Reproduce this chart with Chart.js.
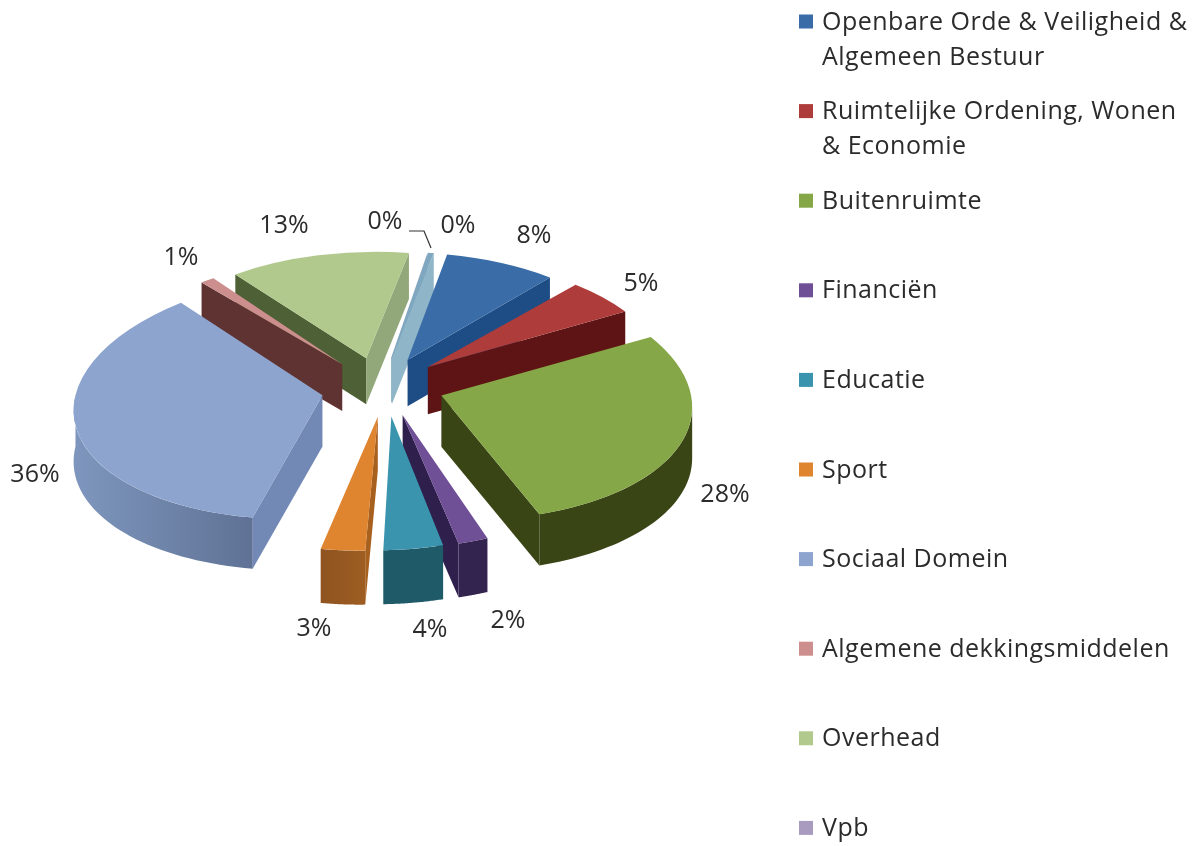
<!DOCTYPE html>
<html><head><meta charset="utf-8">
<style>html,body{margin:0;padding:0;background:#fff}canvas{display:block}</style>
<script src="https://cdn.jsdelivr.net/npm/chart.js@4"></script>
</head><body><canvas id="c" width="1200" height="846"></canvas>
<script>
const categories = ['Openbare Orde & Veiligheid & Algemeen Bestuur','Ruimtelijke Ordening, Wonen & Economie','Buitenruimte','Financiën','Educatie','Sport','Sociaal Domein','Algemene dekkingsmiddelen','Overhead','Vpb',''];
const legendLines = [['Openbare Orde & Veiligheid &','Algemeen Bestuur'],['Ruimtelijke Ordening, Wonen','& Economie'],['Buitenruimte'],['Financiën'],['Educatie'],['Sport'],['Sociaal Domein'],['Algemene dekkingsmiddelen'],['Overhead'],['Vpb']];
const values = [8,5,28,2,4,3,36,1,13,0.01,0.4];
const topColors  = ['#3A6DA8','#AD3C3A','#86A747','#6F4F96','#3A94AE','#DF842F','#8DA4CF','#CC8F8D','#B2C98D','#A99BC0','#7FA7BF'];
const startEdge  = ['#2A5C95','#5E1414','#3A4516','#33234F','#1F5A68','#A8601F','#7288B5','#5E3331','#4E6035','#7FA7BF','#7FA7BF'];
const endEdge    = ['#1E4D85','#5E1414','#3A4516','#2F1F4D','#1F5A68','#A8601F','#7288B5','#5E3331','#92A87A','#7FA7BF','#8FB5C8'];
const wallLeft   = ['#1E4D85','#5E1414','#3A4516','#33234F','#1F5A68','#8E5320','#7E96BD','#5E3331','#4E6035','#5E4F78','#7FA7BF'];
const wallRight  = ['#1E4D85','#5E1414','#3A4516','#33234F','#1F5A68','#9E5E22','#5F7295','#5E3331','#4E6035','#5E4F78','#7FA7BF'];
const labelAnchors = [[534,236],[641,284],[725,495],[508,621],[430,630],[314,629],[35,475],[181,258],[284,226],[385,222],[458,226]];

const EXPLODE = 62, TILT = 0.48, FONT = '"Open Sans", sans-serif', INK = '#2b2b2b';
function geom(arc){
  const a0 = arc.startAngle, a1 = arc.endAngle, mid = (a0+a1)/2, th = mid+Math.PI/2;
  const c = Math.cos(th), s = Math.sin(th);
  const xR = 232+18*s*s-8*c+Math.min(0,4*s), yR = 120-14*c, depth = 50-4*c;
  const shear = Math.min(0,0.06-0.15*(1-s)+0.04*c);
  const lift = 0.05*Math.max(0,s)*Math.max(0,s);
  const tx = arc.x+Math.cos(mid)*EXPLODE, ty = arc.y+Math.sin(mid)*EXPLODE*TILT;
  return {a0,a1,xR,yR,depth,tx,ty,shear,lift};
}
const pie3d = {
  id:'pie3d',
  beforeDatasetDraw(chart,args){
    const ctx = chart.ctx, arcs = args.meta.data;
    const order = arcs.map((a,i)=>i).sort((p,q)=>Math.sin((arcs[p].startAngle+arcs[p].endAngle)/2)-Math.sin((arcs[q].startAngle+arcs[q].endAngle)/2));
    order.forEach(i=>{
      const arc = arcs[i], g = geom(arc), d = g.depth;
      const px = a=>Math.cos(a)*g.xR+g.shear*Math.sin(a)*g.yR, py = a=>Math.sin(a)*g.yR+g.lift*Math.cos(a)*g.xR;
      const quad = (a,col)=>{
        ctx.fillStyle = col; ctx.beginPath();
        ctx.moveTo(0,0); ctx.lineTo(px(a),py(a)); ctx.lineTo(px(a),py(a)+d); ctx.lineTo(0,d);
        ctx.closePath(); ctx.fill();
      };
      ctx.save();
      ctx.translate(g.tx,g.ty);
      if (px(g.a0)<0) quad(g.a0,startEdge[i]);
      if (px(g.a1)>0) quad(g.a1,endEdge[i]);
      const lo = Math.max(g.a0,0), hi = Math.min(g.a1,Math.PI);
      if (hi>lo){
        const gr = ctx.createLinearGradient(Math.min(px(lo),px(hi)),0,Math.max(px(lo),px(hi)),0);
        gr.addColorStop(0,wallLeft[i]); gr.addColorStop(1,wallRight[i]);
        ctx.fillStyle = gr;
        ctx.beginPath();
        for (let t=0;t<=40;t++){const a=lo+(hi-lo)*t/40; ctx.lineTo(px(a),py(a));}
        for (let t=40;t>=0;t--){const a=lo+(hi-lo)*t/40; ctx.lineTo(px(a),py(a)+d);}
        ctx.closePath(); ctx.fill();
      }
      ctx.transform(1,g.lift,g.shear,1,0,0);
      ctx.scale(g.xR/arc.outerRadius,g.yR/arc.outerRadius);
      ctx.translate(-arc.x,-arc.y);
      arc.draw(ctx);
      ctx.restore();
    });
    return false;
  },
  afterDraw(chart){
    const ctx = chart.ctx, total = values.reduce((a,b)=>a+b,0);
    ctx.save();
    ctx.fillStyle = INK; ctx.textBaseline = 'middle';
    ctx.font = '25px '+FONT; ctx.textAlign = 'center';
    values.forEach((v,i)=>ctx.fillText(Math.round(v/total*100)+'%',labelAnchors[i][0],labelAnchors[i][1]));
    ctx.strokeStyle = '#333'; ctx.lineWidth = 1.2; ctx.beginPath();
    ctx.moveTo(409,231); ctx.lineTo(424,231); ctx.lineTo(431,248); ctx.stroke();
    ctx.textAlign = 'left'; ctx.font = '25px '+FONT; ctx.letterSpacing = '0.5px';
    legendLines.forEach((lines,i)=>{
      const y = 21.5+i*89.6;
      ctx.fillStyle = topColors[i]; ctx.fillRect(799,y-7,14,14);
      ctx.fillStyle = INK;
      lines.forEach((t,j)=>ctx.fillText(t,822,y+1+j*35));
    });
    ctx.restore();
  }
};
new Chart(document.getElementById('c'),{
  type:'pie',
  data:{labels:categories,datasets:[{data:values,backgroundColor:topColors,borderWidth:0}]},
  options:{responsive:false,animation:false,rotation:10,radius:240,
    layout:{padding:{left:0,top:0,right:436,bottom:72}},
    plugins:{legend:{display:false},tooltip:{enabled:false}}},
  plugins:[pie3d]
});
</script></body></html>
